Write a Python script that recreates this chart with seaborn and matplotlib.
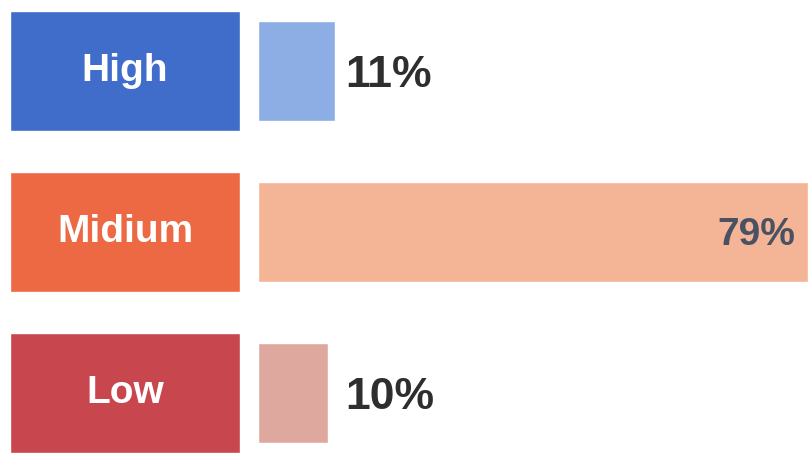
import matplotlib
matplotlib.use("Agg")
import matplotlib.pyplot as plt
import matplotlib.transforms as mtransforms
import seaborn as sns
import pandas as pd

categories = ["High", "Midium", "Low"]
values = [11, 79, 10]
value_labels = ["11%", "79%", "10%"]
box_colors = ["#3f6dc9", "#ec6944", "#c8474f"]
bar_colors = ["#8daee5", "#f4b496", "#dea89f"]

sns.set_theme(style="white")
plt.rcParams['font.family'] = ['Liberation Sans', 'DejaVu Sans']

W, H = 808, 453
fig = plt.figure(figsize=(W / 100, H / 100), dpi=100)
ax_box = fig.add_axes([10 / W, 0, 230 / W, 1])
ax_bar = fig.add_axes([258 / W, 0, 550 / W, 1])

df = pd.DataFrame({"cat": categories, "val": values, "full": [1] * len(categories)})

sns.barplot(data=df, y="cat", x="full", hue="cat", palette=box_colors,
            width=0.745, ax=ax_box, legend=False, saturation=1)
sns.barplot(data=df, y="cat", x="val", hue="cat", palette=bar_colors,
            width=0.62, ax=ax_bar, legend=False, saturation=1)

for ax in (ax_box, ax_bar):
    ax.set_ylim(2.373, -0.441)
    ax.set_xlabel("")
    ax.set_ylabel("")
    ax.set_xticks([])
    ax.set_yticks([])
    for s in ax.spines.values():
        s.set_visible(False)
    ax.patch.set_alpha(0)

ax_box.set_xlim(0, 1)
ax_bar.set_xlim(0, 79)

for i, cat in enumerate(categories):
    ax_box.text(0.5, i, cat, ha="center", va="center", color="white",
                fontsize=28, fontweight="bold")

col_trans = mtransforms.blended_transform_factory(ax_bar.transAxes, ax_bar.transData)
for i, (v, lab) in enumerate(zip(values, value_labels)):
    if v > 40:
        ax_bar.annotate(lab, xy=(v, i), xytext=(-9, -2), textcoords="offset points",
                        ha="right", va="center", fontsize=28, fontweight="bold",
                        color="#4a5163")
    else:
        ax_bar.annotate(lab, xy=((345 - 258) / 550, i), xycoords=col_trans,
                        xytext=(0, -3), textcoords="offset points",
                        ha="left", va="center", fontsize=32, fontweight="bold",
                        color="#2e2e2e")

fig.savefig("out.png", dpi=100)
